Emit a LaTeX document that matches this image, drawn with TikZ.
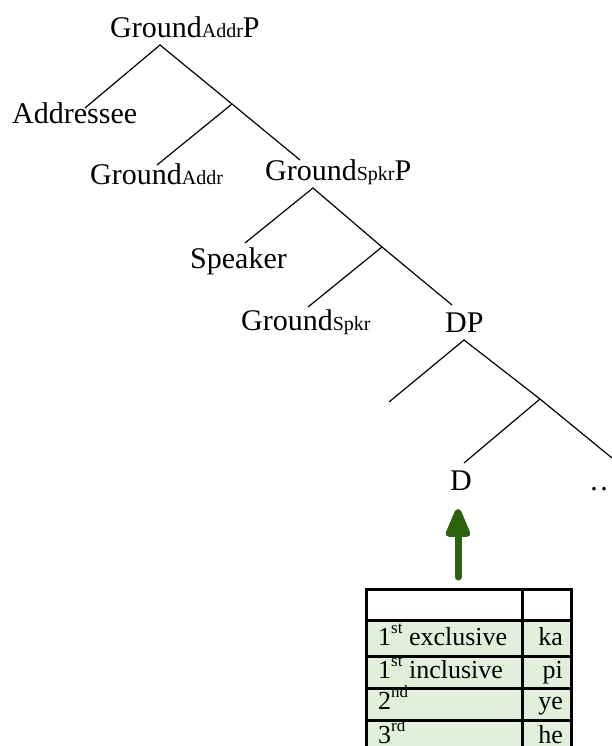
\documentclass[tikz,border=0pt]{standalone}
\usepackage{fontspec}
\setmainfont{Liberation Serif}
\usepackage{tikz}
\usetikzlibrary{arrows.meta}

\definecolor{cellgreen}{RGB}{226,239,218}
\definecolor{arrowgreen}{RGB}{44,98,14}

\newcommand{\lsub}[1]{{\fontsize{20}{20}\selectfont #1}}
\newcommand{\lsup}[1]{\raisebox{12pt}{\fontsize{17}{17}\selectfont #1}}

\begin{document}
\begin{tikzpicture}[
				x=1pt, y=-1pt,
				inner sep=0pt,
				label/.style={anchor=base west, font=\fontsize{30}{36}\selectfont},
				cell/.style={anchor=base west, font=\fontsize{26}{30}\selectfont},
				form/.style={anchor=base east, font=\fontsize{26}{30}\selectfont},
				branch/.style={line width=1.2pt},
				rule/.style={line width=3pt}
			]
			\useasboundingbox (0,0) rectangle (612,746);
			
			% tree labels
			\node [label] (rootP) at (110,38) {Ground\lsub{Addr}P};
			\node [label] (addressee) at (12,124) {Addressee};
			\node [label] (groundAddr) at (90,185) {Ground\lsub{Addr}};
			\node [label] (spkrP) at (265,180) {Ground\lsub{Spkr}P};
			\node [label] (speaker) at (190,268) {Speaker};
			\node [label] (groundSpkr) at (241,330) {Ground\lsub{Spkr}};
			\node [label] (dp) at (445,332) {DP};
			\node [label] (d) at (450,490) {D};
			\node [label] (rest) at (589,490) {\ldots};
			
			% branching points
			\coordinate (rootP-top) at (160,45);
			\coordinate (rootP-mid) at (232,104);
			\coordinate (addressee-end) at (85,108);
			\coordinate (groundAddr-end) at (157,165);
			\coordinate (spkrP-end) at (300,160);
			\coordinate (spkrP-top) at (313,188);
			\coordinate (spkrP-mid) at (382,247);
			\coordinate (speaker-end) at (245,243);
			\coordinate (groundSpkr-end) at (308,307);
			\coordinate (dp-end) at (452,305);
			\coordinate (dp-top) at (464,340);
			\coordinate (dp-mid) at (540,399);
			\coordinate (dp-left) at (389,402);
			\coordinate (dp-right) at (612,458);
			\coordinate (d-end) at (464,463);
			
			\draw [branch] (addressee-end) -- (rootP-top) -- (rootP-mid) -- (spkrP-end);
			\draw [branch] (rootP-mid) -- (groundAddr-end);
			\draw [branch] (speaker-end) -- (spkrP-top) -- (spkrP-mid) -- (dp-end);
			\draw [branch] (spkrP-mid) -- (groundSpkr-end);
			\draw [branch] (dp-left) -- (dp-top) -- (dp-mid) -- (dp-right);
			\draw [branch] (dp-mid) -- (d-end);
			
			% arrow from the table
			\coordinate (foot) at (458,577);
			\draw [arrowgreen, line width=7pt, line cap=round, shorten >=19pt,
				-{Triangle[width=26pt,length=34pt,round=false]}] (foot) -- (d.south -| foot);
			
			% table
			\fill [cellgreen] (366.5,620.5) rectangle (571.5,750);
			\foreach \y in {589.5,620.5,656,688,720}
				\draw [rule] (365,\y) -- (573,\y);
			\foreach \x in {366.5,522,571.5}
				\draw [rule] (\x,588) -- (\x,750);
			
			\node [cell] (first-ex) at (378,645) {1\lsup{st} exclusive};
			\node [cell] (first-in) at (378,678) {1\lsup{st} inclusive};
			\node [cell] (second) at (378,709) {2\lsup{nd}};
			\node [cell] (third) at (378,743) {3\lsup{rd}};
			\node [form] (ka) at (563,645) {ka};
			\node [form] (pi) at (563,678) {pi};
			\node [form] (ye) at (563,709) {ye};
			\node [form] (he) at (563,743) {he};
		\end{tikzpicture}
\end{document}
